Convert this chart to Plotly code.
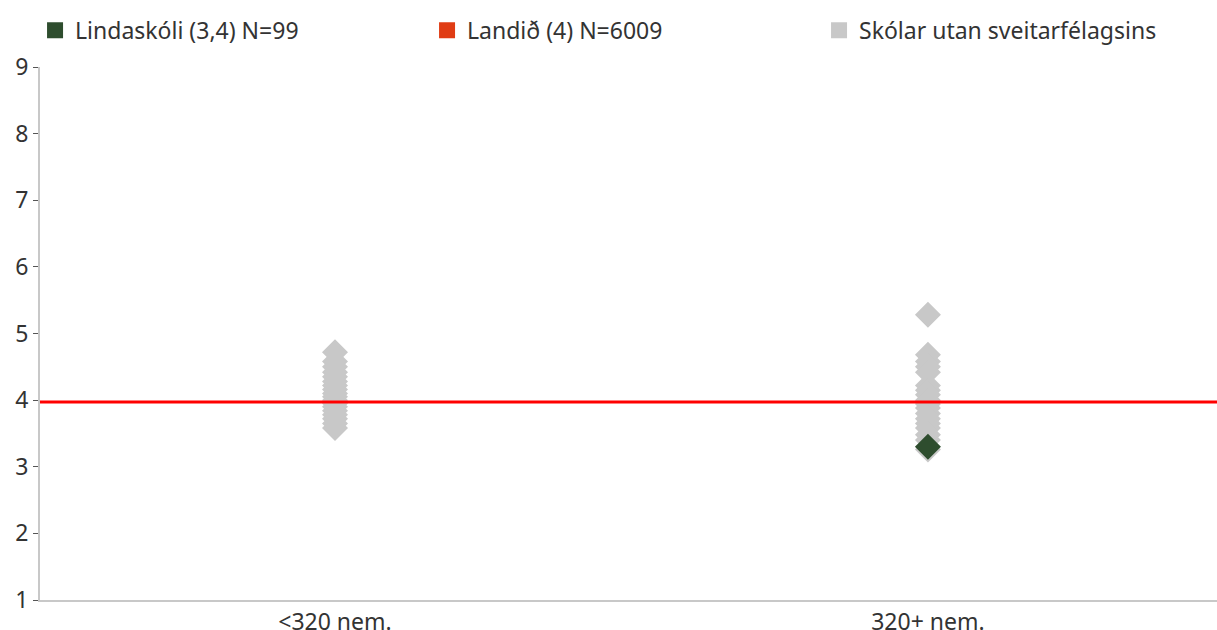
import plotly.graph_objects as go

categories = ["<320 nem.", "320+ nem."]
grey_small = [4.72, 4.58, 4.50, 4.42, 4.35, 4.28, 4.22, 4.16, 4.10, 4.05, 4.00, 3.95, 3.90, 3.84, 3.78, 3.72, 3.65, 3.58]
grey_large = [5.28, 4.68, 4.58, 4.50, 4.42, 4.22, 4.15, 4.08, 4.00, 3.94, 3.88, 3.80, 3.72, 3.65, 3.58, 3.48, 3.40, 3.26]
school_cat = ["320+ nem."]
school_val = [3.3]
national_val = 3.97
y_ticks = [1, 2, 3, 4, 5, 6, 7, 8, 9]

legend_names = ["Lindaskóli (3,4) N=99", "Landið (4) N=6009", "Skólar utan sveitarfélagsins"]

GREY = "#c8c8c8"
GREEN = "#2e4d2e"
RED_LEG = "#e03c14"
TXT = "#333333"
FONT = "Noto Sans"
FS = 23

fig = go.Figure()
# legend-only entries in order
fig.add_trace(go.Scatter(x=[None], y=[None], mode="markers", name=legend_names[0],
                         marker=dict(symbol="square", size=16, color=GREEN)))
fig.add_trace(go.Scatter(x=[None], y=[None], mode="markers", name=legend_names[1],
                         marker=dict(symbol="square", size=16, color=RED_LEG)))
fig.add_trace(go.Scatter(x=[None], y=[None], mode="markers", name=legend_names[2],
                         marker=dict(symbol="square", size=16, color=GREY)))

xs = [categories[0]] * len(grey_small) + [categories[1]] * len(grey_large)
ys = grey_small + grey_large
fig.add_trace(go.Scatter(x=xs, y=ys, mode="markers", showlegend=False,
                         marker=dict(symbol="diamond", size=20, color=GREY)))
fig.add_trace(go.Scatter(x=school_cat, y=school_val, mode="markers", showlegend=False,
                         marker=dict(symbol="diamond", size=20, color=GREEN)))

fig.add_shape(type="line", xref="paper", x0=0, x1=1, yref="y", y0=national_val, y1=national_val,
              line=dict(color="#ff0000", width=3), layer="above")

fig.update_layout(
    width=1217, height=630,
    margin=dict(l=40, r=0, t=67, b=30, autoexpand=False),
    paper_bgcolor="white", plot_bgcolor="white",
    font=dict(family=FONT, size=FS, color=TXT),
    showlegend=True,
    legend=dict(orientation="h", xref="container", yref="container", x=0.0288, y=0.952,
                xanchor="left", yanchor="middle", entrywidth=347, entrywidthmode="pixels",
                font=dict(family=FONT, size=FS, color=TXT), itemsizing="trace",
                tracegroupgap=0, bgcolor="rgba(0,0,0,0)"),
    xaxis=dict(type="category", categoryorder="array", categoryarray=categories,
               range=[-0.4975, 1.4875], showline=True, linecolor="#c8c8c8", linewidth=2,
               showgrid=False, zeroline=False, ticks="", automargin=False,
               tickfont=dict(family=FONT, size=FS, color=TXT)),
    yaxis=dict(range=[1, 9], tickvals=y_ticks, showline=True, linecolor="#c8c8c8", linewidth=2,
               showgrid=False, zeroline=False, ticks="outside", ticklen=5, tickwidth=1,
               tickcolor="#555555", automargin=False,
               tickfont=dict(family=FONT, size=FS, color=TXT)),
)

fig.write_html("out.html", config={"displayModeBar": False},
               post_script="document.body.style.margin='0';document.body.style.overflow='hidden';")
